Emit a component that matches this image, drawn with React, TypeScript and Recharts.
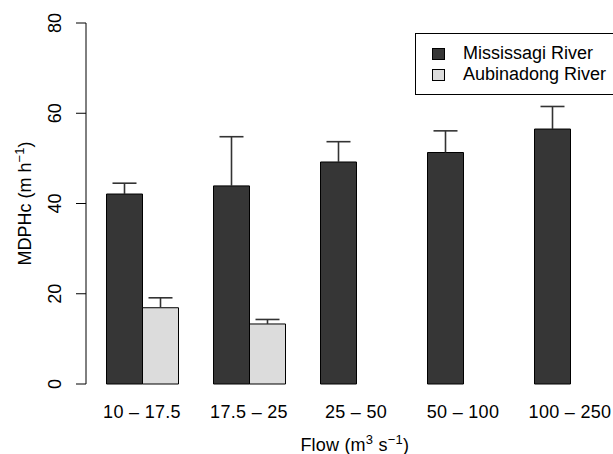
import React from "react";
import { BarChart, Bar, XAxis, YAxis, ErrorBar, Label } from "recharts";

const flowClasses = ["10 – 17.5", "17.5 – 25", "25 – 50", "50 – 100", "100 – 250"];
const mississagi = [42.1, 43.9, 49.2, 51.3, 56.5];
const mississagiSE = [2.4, 10.9, 4.5, 4.8, 5.0];
const aubinadong = [16.9, 13.3, null, null, null];
const aubinadongSE = [2.2, 1.0, null, null, null];
const yTicks = [0, 20, 40, 60, 80];

const series = [
  { key: "miss", name: "Mississagi River", fill: "#363636" },
  { key: "aub", name: "Aubinadong River", fill: "#dcdcdc" },
];

const data = flowClasses.map((flow, i) => ({
  flow,
  miss: mississagi[i],
  missErr: [0, mississagiSE[i]],
  aub: aubinadong[i],
  aubErr: aubinadongSE[i] == null ? null : [0, aubinadongSE[i]],
}));

const FONT = "'Liberation Sans', Arial, Helvetica, sans-serif";

// only the upper half of each error bar is drawn, so hide the lower cap
const css = `.recharts-errorBar line:nth-of-type(3) { display: none; }`;

function YTick(props: any) {
  const { x, y, payload } = props;
  const bx = x - 13;
  return (
    <text
      x={bx}
      y={y}
      transform={`rotate(-90 ${bx} ${y})`}
      textAnchor="middle"
      fontSize={18}
      fontFamily={FONT}
      fill="#000"
    >
      {payload.value}
    </text>
  );
}

function YTitle(props: any) {
  const vb = props.viewBox;
  const cx = 31;
  const cy = vb.y + vb.height / 2;
  return (
    <text
      x={cx}
      y={cy}
      transform={`rotate(-90 ${cx} ${cy})`}
      textAnchor="middle"
      fontSize={18}
      fontFamily={FONT}
      fill="#000"
    >
      MDPHc (m h
      <tspan dy={-7} fontSize={13}>−1</tspan>
      <tspan dy={7}>)</tspan>
    </text>
  );
}

function XTitle(props: any) {
  const vb = props.viewBox;
  const cx = vb.x + vb.width / 2;
  return (
    <text
      x={cx}
      y={451}
      textAnchor="middle"
      fontSize={18}
      fontFamily={FONT}
      letterSpacing={0.2}
      fill="#000"
    >
      Flow (m
      <tspan dy={-7} fontSize={13}>3</tspan>
      <tspan dy={7}> s</tspan>
      <tspan dy={-7} fontSize={13}>−1</tspan>
      <tspan dy={7}>)</tspan>
    </text>
  );
}

function LegendBox() {
  return (
    <div
      style={{
        position: "absolute",
        left: 415,
        top: 33,
        border: "1px solid #000",
        padding: "9px 0 9px 16px",
        width: 230,
        background: "#fff",
        fontFamily: FONT,
        fontSize: 18,
        lineHeight: "21px",
        color: "#000",
      }}
    >
      {series.map((s) => (
        <div key={s.key} style={{ display: "flex", alignItems: "center" }}>
          <span
            style={{
              display: "inline-block",
              width: 11,
              height: 10,
              background: s.fill,
              border: "1px solid #000",
              marginRight: 18,
            }}
          />
          {s.name}
        </div>
      ))}
    </div>
  );
}

export default function App() {
  return (
    <div
      style={{
        position: "fixed",
        left: 0,
        top: 0,
        width: 613,
        height: 454,
        overflow: "hidden",
        background: "#fff",
      }}
    >
      <style>{css}</style>
      <BarChart
        width={640}
        height={454}
        data={data}
        margin={{ top: 23, right: 16.5, bottom: 0, left: 0 }}
        barGap={0}
        barSize={36}
      >
        <XAxis
          dataKey="flow"
          height={70}
          axisLine={false}
          tickLine={false}
          tickSize={0}
          tickMargin={21}
          padding={{ left: 2.5, right: 0 }}
          tick={{ fontSize: 18, fontFamily: FONT, fill: "#000", letterSpacing: 0.3 }}
          interval={0}
        >
          <Label content={<XTitle />} />
        </XAxis>
        <YAxis
          width={86}
          domain={[0, 80]}
          ticks={yTicks}
          interval={0}
          tickSize={10}
          tickMargin={2}
          axisLine={{ stroke: "#000", strokeWidth: 1 }}
          tickLine={{ stroke: "#000", strokeWidth: 1 }}
          tick={<YTick />}
        >
          <Label content={<YTitle />} />
        </YAxis>
        {series.map((s) => (
          <Bar
            key={s.key}
            dataKey={s.key}
            name={s.name}
            fill={s.fill}
            stroke="#000"
            strokeWidth={1}
            isAnimationActive={false}
          >
            <ErrorBar
              dataKey={s.key + "Err"}
              width={12}
              stroke="#333"
              strokeWidth={1.6}
              direction="y"
              isAnimationActive={false}
            />
          </Bar>
        ))}
      </BarChart>
      <LegendBox />
    </div>
  );
}
